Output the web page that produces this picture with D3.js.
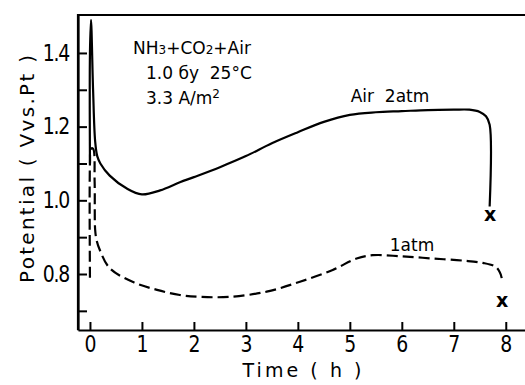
<!DOCTYPE html>
<html>
<head>
<meta charset="utf-8">
<script src="https://cdn.jsdelivr.net/npm/d3@7"></script>
<style>
  html, body { margin: 0; padding: 0; background: #fff; }
  svg { display: block; }
</style>
</head>
<body>
<div id="chart"></div>
<script>
// ---- data ----
const xTickValues = [0, 1, 2, 3, 4, 5, 6, 7, 8];
const yTickValues = [0.7, 0.8, 0.9, 1.0, 1.1, 1.2, 1.3, 1.4];
const yLabeled = [0.8, 1.0, 1.2, 1.4];

// Air 2atm (solid)
const air2Time = [0.0, 0.0, 0.02, 0.06, 0.10, 0.14, 0.2, 0.38, 0.71, 1.0, 1.35, 1.73, 2.0, 2.5, 3.0, 3.5, 4.0, 4.5, 5.0, 5.5, 6.0, 6.5, 7.0, 7.3, 7.5, 7.62, 7.69, 7.69];
const air2Pot  = [1.10, 1.40, 1.49, 1.30, 1.16, 1.12, 1.10, 1.067, 1.032, 1.016, 1.027, 1.049, 1.063, 1.09, 1.12, 1.155, 1.185, 1.213, 1.232, 1.239, 1.242, 1.245, 1.246, 1.246, 1.240, 1.228, 1.205, 0.983];
const air2End = [7.70, 0.962];

// 1atm (dashed)
const atm1Time = [0.0, 0.0, 0.02, 0.06, 0.09, 0.10, 0.13, 0.19, 0.38, 0.83, 1.29, 1.73, 2.12, 2.69, 3.4, 4.04, 4.67, 5.13, 5.44, 6.0, 6.6, 7.2, 7.56, 7.8, 7.88, 7.92, 7.92];
const atm1Pot  = [0.79, 1.10, 1.14, 1.14, 1.05, 0.92, 0.89, 0.865, 0.816, 0.778, 0.757, 0.743, 0.738, 0.738, 0.752, 0.779, 0.811, 0.842, 0.851, 0.848, 0.842, 0.836, 0.830, 0.820, 0.806, 0.790, 0.775];
const atm1End = [7.93, 0.730];

const conditions = ["1.0 бy  25°C", "3.3 A/m"];

// ---- layout ----
const W = 525, H = 385;
const L = 78, R = 525, T = 15, B = 330;
const SX = 0.82; // horizontal squeeze of tick labels

const svg = d3.select("#chart").append("svg").attr("width", W).attr("height", H);

const x = d3.scaleLinear().domain([-0.23, 8.37]).range([L, R]);
const y = d3.scaleLinear().domain([0.648, 1.503]).range([B, T]);

const tickFont = "'DejaVu Sans', sans-serif";
const txtFont = "'DejaVu Sans', sans-serif";

// top border
svg.append("line").attr("x1", L).attr("x2", R).attr("y1", T).attr("y2", T)
  .attr("stroke", "#000").attr("stroke-width", 2.2);

// x axis
const xAxis = svg.append("g").attr("transform", `translate(0,${B})`)
  .call(d3.axisBottom(x).tickValues(xTickValues).tickSizeInner(-8).tickSizeOuter(0).tickPadding(6).tickFormat(d3.format("d")));
xAxis.select(".domain").attr("stroke-width", 2.2);
xAxis.selectAll(".tick line").attr("stroke-width", 2);
xAxis.selectAll("text").attr("font-family", tickFont).attr("font-size", 23).attr("fill", "#000")
  .attr("transform", `scale(${SX},1)`);

// y axis
const yAxis = svg.append("g").attr("transform", `translate(${L},0)`)
  .call(d3.axisLeft(y).tickValues(yTickValues).tickSizeInner(-9).tickSizeOuter(0).tickPadding(8)
    .tickFormat(d => yLabeled.some(v => Math.abs(v - d) < 1e-9) ? d3.format(".1f")(d) : ""));
yAxis.select(".domain").attr("stroke-width", 2.2);
yAxis.selectAll(".tick line").attr("stroke-width", 2);
yAxis.selectAll("text").attr("font-family", tickFont).attr("font-size", 23).attr("fill", "#000")
  .attr("letter-spacing", -1.5)
  .attr("x", -9 / SX).attr("transform", `scale(${SX},1)`);
// extend left axis to top border
svg.append("line").attr("x1", L).attr("x2", L).attr("y1", T - 1).attr("y2", B)
  .attr("stroke", "#000").attr("stroke-width", 2.2);

// axis titles
svg.append("text").attr("transform", `translate(34,169) rotate(-90)`)
  .attr("text-anchor", "middle").attr("font-family", txtFont).attr("font-size", 20)
  .attr("textLength", 228).attr("lengthAdjust", "spacing")
  .text("Potential ( Vvs.Pt )");
svg.append("text").attr("x", 302).attr("y", 377)
  .attr("text-anchor", "middle").attr("font-family", txtFont).attr("font-size", 19)
  .attr("textLength", 119).attr("lengthAdjust", "spacing")
  .text("Time ( h )");

// curves
const line = d3.line().x(d => x(d[0])).y(d => y(d[1])).curve(d3.curveCatmullRom.alpha(0.5));
const air2 = air2Time.map((t, i) => [t, air2Pot[i]]);
const atm1 = atm1Time.map((t, i) => [t, atm1Pot[i]]);

svg.append("path").datum(atm1).attr("d", line).attr("fill", "none")
  .attr("stroke", "#000").attr("stroke-width", 2.2).attr("stroke-dasharray", "11,5");
svg.append("path").datum(air2).attr("d", line).attr("fill", "none")
  .attr("stroke", "#000").attr("stroke-width", 2.2);

// end markers
[air2End, atm1End].forEach(p => {
  svg.append("text").attr("x", x(p[0])).attr("y", y(p[1]))
    .attr("text-anchor", "middle").attr("dominant-baseline", "central")
    .attr("font-family", txtFont).attr("font-size", 19).attr("font-weight", "bold").text("x");
});

// labels
svg.append("text").attr("x", 390).attr("y", 102).attr("text-anchor", "middle")
  .attr("font-family", txtFont).attr("font-size", 17).attr("xml:space", "preserve").text("Air  2atm");
svg.append("text").attr("x", 412).attr("y", 251).attr("text-anchor", "middle")
  .attr("font-family", txtFont).attr("font-size", 17).text("1atm");

// conditions block
const t1 = svg.append("text").attr("x", 133).attr("y", 54)
  .attr("font-family", txtFont).attr("font-size", 17);
t1.append("tspan").text("NH");
t1.append("tspan").attr("font-size", 12).text("3");
t1.append("tspan").text("+CO");
t1.append("tspan").attr("font-size", 12).text("2");
t1.append("tspan").text("+Air");

svg.append("text").attr("x", 146).attr("y", 79)
  .attr("font-family", txtFont).attr("font-size", 17).attr("xml:space", "preserve").text(conditions[0]);
const t3 = svg.append("text").attr("x", 146).attr("y", 104)
  .attr("font-family", txtFont).attr("font-size", 17);
t3.append("tspan").text(conditions[1]);
t3.append("tspan").attr("font-size", 12).attr("dy", -6).text("2");
</script>
</body>
</html>
